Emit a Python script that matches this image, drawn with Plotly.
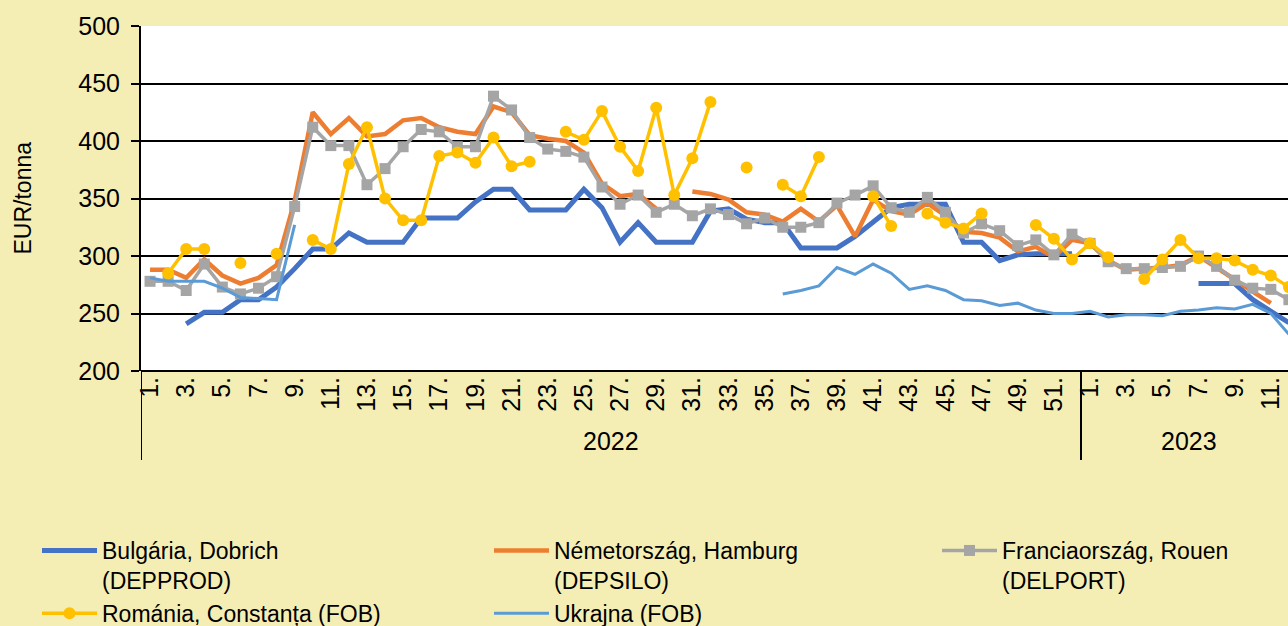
import plotly.graph_objects as go

# ---- data -------------------------------------------------------------
weeks_2022 = list(range(1, 53))
weeks_2023 = list(range(1, 13))
week_labels = [f"{w}." for w in weeks_2022] + [f"{w}." for w in weeks_2023]
years = ["2022", "2023"]

bulgaria = [None, None, 241, 251, 251, 262, 262, 273, 289, 306, 306, 320, 312, 312, 312, 333, 333, 333, 347, 358,
            358, 340, 340, 340, 358, 342, 312, 329, 312, 312, 312, 339, 341, 332, 329, 329, 307, 307, 307, 317,
            329, 342, 345, 345, 345, 312, 312, 296, 301, 302, 302, 302,
            None, None, None, None, None, None, 276, 276, 276, 262, 252, 242]

germany = [288, 288, 281, 297, 283, 276, 281, 292, 348, 425, 406, 420, 404, 406, 418, 420, 412, 408, 406, 430,
           425, 405, 402, 400, 390, 363, 352, 354, 341, None, 356, 354, 349, 338, 336, 330, 341, 330, 344, 317,
           349, 339, 336, 346, 335, 321, 320, 316, 304, 308, 299, 314,
           311, 296, 288, 289, 290, 292, 300, 290, 279, 269, 259, None]

france = [278, 278, 270, 293, 273, 267, 272, 282, 343, 412, 396, 396, 362, 376, 395, 410, 408, 395, 395, 439,
          427, 403, 393, 391, 386, 360, 345, 353, 338, 345, 335, 341, 336, 328, 333, 325, 325, 329, 346, 353,
          361, 342, 338, 351, 338, 320, 328, 322, 309, 314, 301, 319,
          311, 295, 289, 289, 290, 291, 300, 291, 279, 272, 271, 262]

romania = [None, 285, 306, 306, None, 294, None, 302, None, 314, 306, 380, 412, 350, 331, 331, 387, 390, 381, 403,
           378, 382, None, 408, 401, 426, 395, 374, 429, 353, 385, 434, None, 377, None, 362, 352, 386, None, None,
           352, 326, None, 337, 329, 324, 337, None, None, 327, 315, 297,
           311, 299, None, 280, 297, 314, 298, 298, 296, 288, 283, 273]

ukraine = [281, 278, 278, 278, 272, 264, 263, 262, 327, None, None, None, None, None, None, None, None, None, None, None,
           None, None, None, None, None, None, None, None, None, None, None, None, None, None, None, 267, 270, 274, 290, 284,
           293, 285, 271, 274, 270, 262, 261, 257, 259, 253, 250, 250,
           252, 247, 249, 249, 248, 252, 253, 255, 254, 258, 250, 232]

series_names = ["Bulgária, Dobrich<br>(DEPPROD)", "Németország, Hamburg<br>(DEPSILO)",
                "Franciaország, Rouen<br>(DELPORT)", "Románia, Constanța (FOB)", "Ukrajna (FOB)"]

# ---- figure -----------------------------------------------------------
x_idx = list(range(len(week_labels)))
FONT = "Liberation Sans, Arial, sans-serif"
BG = "#F5EEB4"
TICK_SIZE = 25
LEG_SIZE = 23

fig = go.Figure()
fig.add_trace(go.Scatter(x=x_idx, y=bulgaria, name=series_names[0], mode="lines", legend="legend",
                         line=dict(color="#4472C4", width=5)))
fig.add_trace(go.Scatter(x=x_idx, y=germany, name=series_names[1], mode="lines", legend="legend2",
                         line=dict(color="#ED7D31", width=4.5)))
fig.add_trace(go.Scatter(x=x_idx, y=france, name=series_names[2], mode="lines+markers", legend="legend3",
                         line=dict(color="#A5A5A5", width=3.5),
                         marker=dict(symbol="square", size=11, color="#A5A5A5")))
fig.add_trace(go.Scatter(x=x_idx, y=romania, name=series_names[3], mode="lines+markers", legend="legend",
                         line=dict(color="#FFC000", width=3.5),
                         marker=dict(symbol="circle", size=12, color="#FFC000")))
fig.add_trace(go.Scatter(x=x_idx, y=ukraine, name=series_names[4], mode="lines", legend="legend2",
                         line=dict(color="#5B9BD5", width=3)))

tick_vals = x_idx[::2]
tick_text = week_labels[::2]

n22 = len(weeks_2022)
n23 = len(weeks_2023)


def leg(xpx):
    return dict(orientation="v", xref="container", yref="container",
                x=xpx / 1288, y=1 - 529 / 626, xanchor="left", yanchor="top",
                itemwidth=55, valign="top", font=dict(size=LEG_SIZE, family=FONT, color="black"),
                bgcolor="rgba(0,0,0,0)", traceorder="normal", tracegroupgap=0)


fig.update_layout(
    width=1288, height=626,
    margin=dict(l=141, r=0, t=26, b=255, autoexpand=False),
    paper_bgcolor=BG, plot_bgcolor="white",
    font=dict(family=FONT, size=TICK_SIZE, color="black"),
    showlegend=True,
    legend=leg(37), legend2=leg(489), legend3=leg(937),
    xaxis=dict(range=[-0.5, 62.95], tickmode="array", tickvals=tick_vals, ticktext=tick_text,
               tickangle=-90, showgrid=False, zeroline=False, showline=False,
               ticks="", tickfont=dict(size=TICK_SIZE, family=FONT)),
    yaxis=dict(range=[200, 500], dtick=50, showgrid=True, gridcolor="black", gridwidth=2,
               zeroline=False, showline=True, linecolor="black", linewidth=2,
               ticks="outside", ticklen=8, tickcolor="black", tickwidth=2,
               ticklabelstandoff=6, tickfont=dict(size=TICK_SIZE, family=FONT)),
)

# bottom axis line & category dividers
low = -(460 - 371) / 345
fig.add_shape(type="line", xref="x", yref="paper", x0=-0.5, x1=62.95, y0=0, y1=0,
              line=dict(color="black", width=2))
fig.add_shape(type="line", xref="x", yref="paper", x0=-0.5, x1=-0.5, y0=0, y1=low,
              line=dict(color="black", width=2))
fig.add_shape(type="line", xref="x", yref="paper", x0=n22 - 0.5, x1=n22 - 0.5, y0=0, y1=low,
              line=dict(color="black", width=2))

# year labels
fig.add_annotation(x=(n22 - 1) / 2, y=-(441 - 371) / 345, xref="x", yref="paper", text=years[0],
                   showarrow=False, yanchor="middle", font=dict(size=TICK_SIZE, family=FONT))
fig.add_annotation(x=n22 + (n23 - 1) / 2, y=-(441 - 371) / 345, xref="x", yref="paper", text=years[1],
                   showarrow=False, yanchor="middle", font=dict(size=TICK_SIZE, family=FONT))

# y-axis title
fig.add_annotation(x=-(141 - 22) / 1147, y=0.5, xref="paper", yref="paper", text="EUR/tonna",
                   textangle=-90, showarrow=False, xanchor="center", yanchor="middle",
                   font=dict(size=23, family=FONT))

fig.write_html("out.html", config={"displayModeBar": False},
               post_script="document.body.style.margin='0px';")
